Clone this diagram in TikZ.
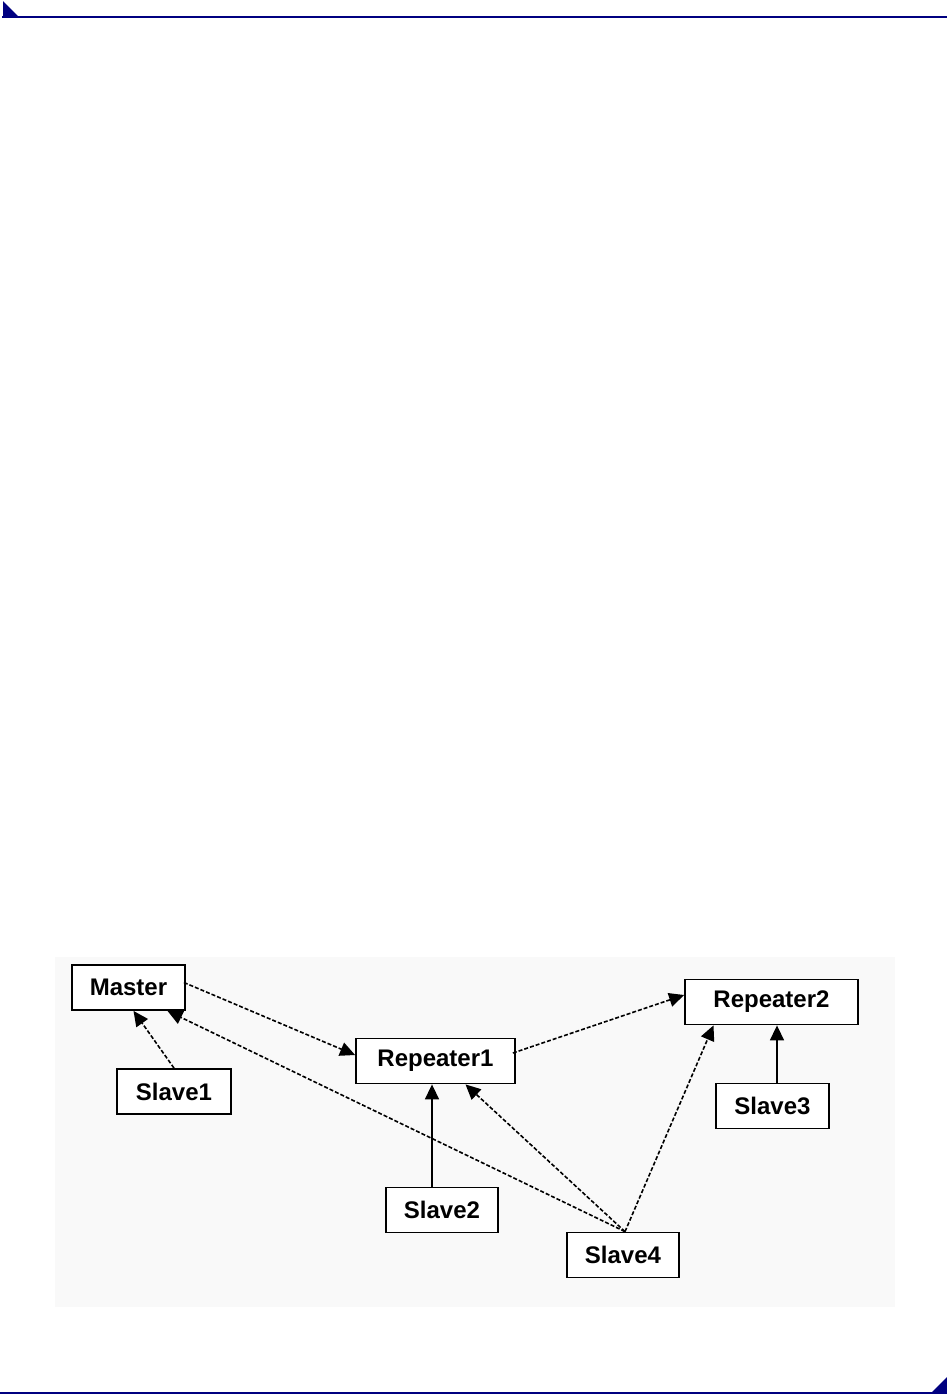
\documentclass[tikz,border=0pt]{standalone}
\usepackage{fontspec}
\setmainfont{Liberation Sans}
\usepackage{xcolor}
\usetikzlibrary{arrows.meta,calc}
\definecolor{hdrblue}{RGB}{0,0,128}
\definecolor{panelgray}{RGB}{249,249,249}

\begin{document}
\begin{tikzpicture}[x=0.5pt, y=-0.5pt, >={Triangle[length=7.5pt, width=7pt]},
  box/.style={draw, line width=0.9pt, fill=white, inner sep=0pt, minimum height=22.5pt, font=\fontsize{12}{14}\selectfont\bfseries},
  link/.style={->, line width=0.8pt},
  dlink/.style={->, line width=0.8pt, dash pattern=on 2pt off 1pt}]
  \useasboundingbox (0,0) rectangle (947,1394);
  % page rules
  \fill[hdrblue] (3,1) -- (3,17) -- (19,17) -- cycle;
  \draw[hdrblue, line width=1pt] (2,16.5) -- (947,16.5);
  \draw[hdrblue, line width=1pt] (0,1392.5) -- (947,1392.5);
  \fill[hdrblue] (930,1394) -- (947,1377) -- (947,1394) -- cycle;
  \fill[panelgray] (55,957) rectangle (895,1307);
  % nodes
  \node[box, minimum width=56.5pt](master) at (128.5,987.5){Master};
  \node[box, minimum width=57pt](slave1) at (174,1091.5){Slave1};
  \node[box, minimum width=79.5pt](rep1) at (435.5,1061){Repeater1};
  \node[box, minimum width=86.5pt](rep2) at (771.5,1002){Repeater2};
  \node[box, minimum width=56.5pt](slave3) at (772.5,1106){Slave3};
  \node[box, minimum width=56pt](slave2) at (442,1210){Slave2};
  \node[box, minimum width=56pt](slave4) at (623,1255){Slave4};
  \coordinate (s4top) at ($(slave4.north)+(2,0)$);
  % links
  \draw[dlink] ($(master.east)+(-2,-5)$) -- ($(rep1.west)+(0,-6)$);
  \draw[dlink] ($(rep1.east)+(-3,-8)$) -- ($(rep2.west)+(0,-7)$);
  \draw[dlink] (slave1.north) -- ($(master.south)+(5,0)$);
  \draw[link] ($(slave2.north)+(-10,0)$) -- ($(rep1.south)+(-3.5,0)$);
  \draw[link] ($(slave3.north)+(4.5,0)$) -- ($(rep2.south)+(5.5,0)$);
  \draw[dlink] (s4top) -- ($(master.south)+(39,0)$);
  \draw[dlink] (s4top) -- ($(rep1.south)+(30,0)$);
  \draw[dlink] (s4top) -- ($(rep2.south)+(-58,0)$);
\end{tikzpicture}
\end{document}
